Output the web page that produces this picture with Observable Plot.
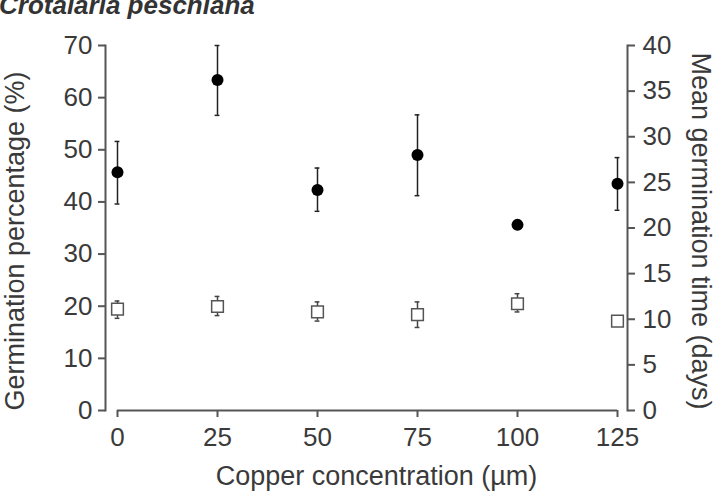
<!DOCTYPE html>
<html><head><meta charset="utf-8">
<script src="https://cdn.jsdelivr.net/npm/d3@7"></script>
<script src="https://cdn.jsdelivr.net/npm/@observablehq/plot@0.6"></script>
<style>
body{margin:0;background:#fff;}
#wrap{position:relative;width:722px;height:495px;overflow:hidden;}
#title{position:absolute;left:-1px;top:-8px;font:italic bold 26px "Liberation Sans",Arial,sans-serif;color:#333;line-height:26px;white-space:nowrap;}
</style></head><body>
<div id="wrap"></div>
<script>
// Copper concentration (µm)
const concentrations = [0, 25, 50, 75, 100, 125];
// Germination percentage (%) — filled circles, left axis
const germPct     = [45.7, 63.4, 42.3, 49.0, 35.6, 43.5];
const germPctLow  = [39.6, 56.6, 38.2, 41.2, 34.9, 38.4];
const germPctHigh = [51.6, 70.0, 46.5, 56.7, 36.3, 48.5];
// Mean germination time (days) — open squares, right axis
const meanTime     = [11.1, 11.4, 10.8, 10.5, 11.7, 9.8];
const meanTimeLow  = [10.1, 10.4, 9.8, 9.1, 10.8, 9.8];
const meanTimeHigh = [12.0, 12.5, 11.9, 11.9, 12.8, 9.8];
// tick labels
const leftTicks  = [0, 10, 20, 30, 40, 50, 60, 70];
const rightTicks = [0, 5, 10, 15, 20, 25, 30, 35, 40];
const xTicks     = [0, 25, 50, 75, 100, 125];

const leftMax = 70, rightMax = 40;
const k = leftMax / rightMax; // days -> left-axis units

const rows = concentrations.map((c, i) => ({
  c, pct: germPct[i], pctLo: germPctLow[i], pctHi: germPctHigh[i],
  days: meanTime[i], daysLo: meanTimeLow[i], daysHi: meanTimeHigh[i]
}));
const timeBars = rows.filter(d => d.daysHi > d.daysLo);

const capW = 0.6;
const textColor = "#3a3a3a";
const axisColor = "#555";
const font = '"Liberation Sans", Arial, Helvetica, sans-serif';

const chart = Plot.plot({
  width: 722, height: 495,
  marginLeft: 105, marginRight: 95, marginTop: 45, marginBottom: 85,
  x: {domain: [0, 125], insetLeft: 12, insetRight: 10},
  y: {domain: [0, leftMax]},
  style: {fontFamily: font, fontSize: "26px", color: textColor, background: "white"},
  marks: [
    Plot.frame({anchor: "left", stroke: axisColor, strokeWidth: 2}),
    Plot.frame({anchor: "right", stroke: axisColor, strokeWidth: 2}),
    Plot.ruleY([0], {x1: xTicks[0], x2: xTicks[xTicks.length - 1], stroke: axisColor, strokeWidth: 2}),
    Plot.axisX(xTicks, {anchor: "bottom", tickSize: 7, tickPadding: 10, stroke: axisColor, strokeWidth: 2, label: null, fontSize: 26, fill: textColor}),
    Plot.axisY(leftTicks, {anchor: "left", tickSize: 7, tickPadding: 6, stroke: axisColor, strokeWidth: 2, label: null, fontSize: 26, fill: textColor}),
    Plot.axisY(rightTicks.map(t => t * k), {anchor: "right", tickSize: 7, tickPadding: 8, stroke: axisColor, strokeWidth: 2, label: null, fontSize: 26, fill: textColor, tickFormat: d => Math.round(d / k)}),

    // time error bars + squares
    Plot.ruleX(timeBars, {x: "c", y1: d => d.daysLo * k, y2: d => d.daysHi * k, stroke: "#444", strokeWidth: 1.5}),
    Plot.ruleY(timeBars, {y: d => d.daysLo * k, x1: d => d.c - capW, x2: d => d.c + capW, stroke: "#444", strokeWidth: 1.5}),
    Plot.ruleY(timeBars, {y: d => d.daysHi * k, x1: d => d.c - capW, x2: d => d.c + capW, stroke: "#444", strokeWidth: 1.5}),
    Plot.dot(rows, {x: "c", y: d => d.days * k, symbol: "square", r: 6.6, fill: "white", stroke: "#555", strokeWidth: 1.5}),

    // germination error bars + circles
    Plot.ruleX(rows, {x: "c", y1: "pctLo", y2: "pctHi", stroke: "#222", strokeWidth: 1.5}),
    Plot.ruleY(rows, {y: "pctLo", x1: d => d.c - capW, x2: d => d.c + capW, stroke: "#222", strokeWidth: 1.5}),
    Plot.ruleY(rows, {y: "pctHi", x1: d => d.c - capW, x2: d => d.c + capW, stroke: "#222", strokeWidth: 1.5}),
    Plot.dot(rows, {x: "c", y: "pct", r: 6, fill: "black", stroke: null}),

    // axis titles
    Plot.text(["Germination percentage (%)"], {text: d => d, frameAnchor: "left", textAnchor: "middle", lineAnchor: "middle", rotate: -90, dx: -90, dy: 13, fontSize: 27, fill: textColor}),
    Plot.text(["Mean germination time (days)"], {text: d => d, frameAnchor: "right", textAnchor: "middle", lineAnchor: "middle", rotate: 90, dx: 73, dy: 3, fontSize: 27, fill: textColor}),
    Plot.text(["Copper concentration (\u00b5m)"], {text: d => d, frameAnchor: "bottom", textAnchor: "middle", lineAnchor: "middle", dx: 10, dy: 66, fontSize: 27, fill: textColor})
  ]
});
const wrap = document.getElementById("wrap");
wrap.appendChild(chart);
const t = document.createElement("div");
t.id = "title";
t.textContent = "Crotalaria peschiana";
wrap.appendChild(t);
</script>
</body></html>
